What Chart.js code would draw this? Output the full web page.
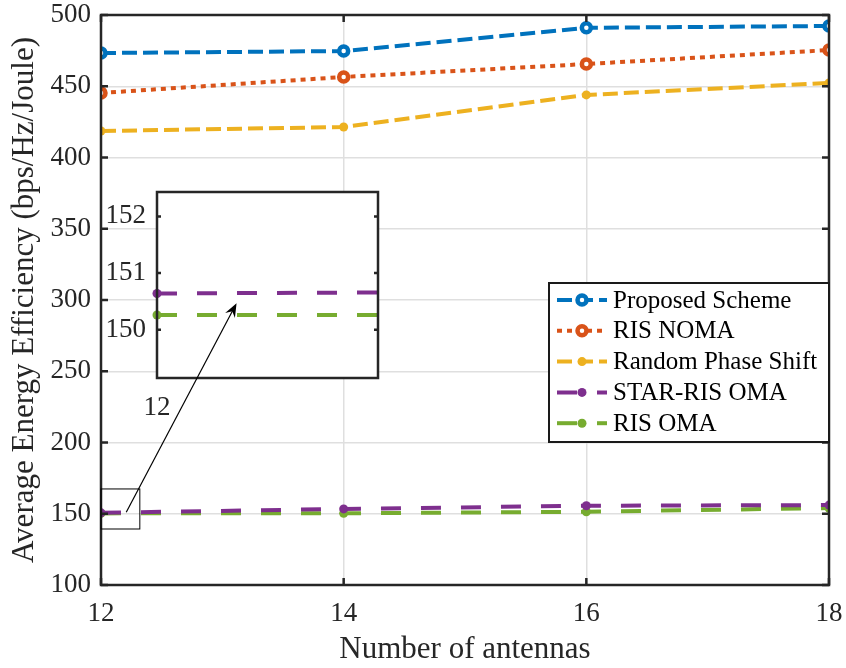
<!DOCTYPE html>
<html>
<head>
<meta charset="utf-8">
<script src="https://cdn.jsdelivr.net/npm/chart.js@4/dist/chart.umd.min.js"></script>
<style>
  html, body { margin: 0; padding: 0; background: #fff; }
  #wrap { position: relative; width: 846px; height: 668px; }
  #wrap canvas { position: absolute; left: 0; top: 0; }
</style>
</head>
<body>
<div id="wrap">
  <canvas id="main" width="846" height="668"></canvas>
  <canvas id="inset" width="846" height="668"></canvas>
</div>
<script>
const antennas = [12, 14, 16, 18];
const proposed = [473.3, 474.7, 491.0, 492.3];
const risNoma = [445.3, 456.5, 465.6, 475.4];
const randomPhase = [418.6, 421.4, 443.9, 452.3];
const starRisOma = [150.64, 153.4, 155.6, 156.1];
const risOma = [150.26, 150.3, 151.4, 154.0];

const seriesNames = ['Proposed Scheme', 'RIS NOMA', 'Random Phase Shift', 'STAR-RIS OMA', 'RIS OMA'];
const xTicks = [12, 14, 16, 18];
const yTicks = [100, 150, 200, 250, 300, 350, 400, 450, 500];
const insetYTicks = [150, 151, 152];
const insetXTicks = [12];

// zoomed region marked on the main axes
const zoomBox = { x0: 12, x1: 12.32, y0: 139.3, y1: 167.4 };

const FONT = 'Liberation Serif, Times New Roman, serif';
const AXIS = '#262626';
const GRID = '#dfdfdf';

const pts = vals => vals.map((v, i) => ({ x: antennas[i], y: v }));

function makeDatasets() {
    return [
        { label: seriesNames[0], data: pts(proposed), borderColor: '#0072BD', backgroundColor: '#ffffff',
          borderDash: [15, 6], pointStyle: 'circle', pointRadius: 4.5, pointBorderWidth: 4.5, pointBorderColor: '#0072BD' },
        { label: seriesNames[1], data: pts(risNoma), borderColor: '#D95319', backgroundColor: '#ffffff',
          borderDash: [5, 5], pointStyle: 'circle', pointRadius: 4.5, pointBorderWidth: 4.5, pointBorderColor: '#D95319' },
        { label: seriesNames[2], data: pts(randomPhase), borderColor: '#EDB120', backgroundColor: '#EDB120',
          borderDash: [15, 6], pointRadius: 4.5, pointBorderWidth: 0 },
        { label: seriesNames[3], data: pts(starRisOma), borderColor: '#7E2F8E', backgroundColor: '#7E2F8E',
          borderDash: [20, 20], pointRadius: 4.5, pointBorderWidth: 0 },
        { label: seriesNames[4], data: pts(risOma), borderColor: '#77AC30', backgroundColor: '#77AC30',
          borderDash: [20, 20], pointRadius: 4.5, pointBorderWidth: 0 }
    ].map(d => Object.assign({ borderWidth: 4, tension: 0, fill: false, pointHoverRadius: 0 }, d));
}

// box around plot area plus inward ticks on all four sides
const axesBox = {
    id: 'axesBox',
    beforeDatasetsDraw(chart, args, opts) {
        if (opts.fill) {
            const { ctx, chartArea: a } = chart;
            ctx.save();
            ctx.fillStyle = '#fff';
            ctx.fillRect(a.left, a.top, a.right - a.left, a.bottom - a.top);
            ctx.restore();
        }
    },
    afterDatasetsDraw(chart, args, opts) {
        const { ctx, chartArea: a, scales: { x, y } } = chart;
        const len = opts.tickLen || 7;
        ctx.save();
        ctx.strokeStyle = AXIS;
        ctx.lineWidth = opts.width || 2.5;
        ctx.beginPath();
        (opts.xTicks || []).forEach(v => {
            const px = x.getPixelForValue(v);
            ctx.moveTo(px, a.bottom); ctx.lineTo(px, a.bottom - len);
            ctx.moveTo(px, a.top); ctx.lineTo(px, a.top + len);
        });
        (opts.yTicks || []).forEach(v => {
            const py = y.getPixelForValue(v);
            ctx.moveTo(a.left, py); ctx.lineTo(a.left + len, py);
            ctx.moveTo(a.right, py); ctx.lineTo(a.right - len, py);
        });
        ctx.stroke();
        ctx.strokeRect(a.left, a.top, a.right - a.left, a.bottom - a.top);
        ctx.restore();
    }
};

// legend in MATLAB style, inside the axes
const boxLegend = {
    id: 'boxLegend',
    afterDraw(chart) {
        const { ctx, chartArea: a } = chart;
        const sets = chart.data.datasets;
        const w = 280, rowH = 30.8, h = 159;
        const left = a.right - w, top = 283;
        ctx.save();
        ctx.fillStyle = '#fff';
        ctx.fillRect(left, top, w, h);
        ctx.strokeStyle = '#1a1a1a';
        ctx.lineWidth = 2;
        ctx.strokeRect(left, top, w, h);
        ctx.font = '25px ' + FONT;
        ctx.textBaseline = 'middle';
        sets.forEach((d, i) => {
            const cy = top + 17 + i * rowH;
            ctx.strokeStyle = d.borderColor;
            ctx.lineWidth = 4;
            ctx.setLineDash(d.borderDash);
            ctx.beginPath();
            ctx.moveTo(left + 8, cy); ctx.lineTo(left + 58, cy);
            ctx.stroke();
            ctx.setLineDash([]);
            ctx.beginPath();
            ctx.arc(left + 33, cy, d.pointRadius, 0, Math.PI * 2);
            ctx.fillStyle = d.backgroundColor;
            ctx.fill();
            if (d.pointBorderWidth) {
                ctx.lineWidth = d.pointBorderWidth;
                ctx.strokeStyle = d.pointBorderColor;
                ctx.stroke();
            }
            ctx.fillStyle = '#000';
            ctx.fillText(d.label, left + 64, cy + 1);
        });
        ctx.restore();
    }
};

// thin rectangle marking the zoomed region
const zoomMark = {
    id: 'zoomMark',
    afterDatasetsDraw(chart) {
        const { ctx, scales: { x, y } } = chart;
        const l = x.getPixelForValue(zoomBox.x0), r = x.getPixelForValue(zoomBox.x1);
        const t = y.getPixelForValue(zoomBox.y1), b = y.getPixelForValue(zoomBox.y0);
        ctx.save();
        ctx.strokeStyle = '#000';
        ctx.lineWidth = 1;
        ctx.strokeRect(l, t, r - l, b - t);
        ctx.restore();
    }
};

// pin the axis size and drop the automatic edge padding for labels
const fixed = (key, val) => scale => {
    scale[key] = val;
    scale.paddingTop = scale.paddingBottom = scale.paddingLeft = scale.paddingRight = 0;
};

const mainChart = new Chart(document.getElementById('main'), {
    type: 'line',
    data: { datasets: makeDatasets() },
    plugins: [axesBox, zoomMark, boxLegend],
    options: {
        responsive: false,
        animation: false,
        events: [],
        layout: { padding: { top: 15, right: 17, left: 0, bottom: 0 } },
        plugins: {
            legend: { display: false },
            tooltip: { enabled: false },
            axesBox: { xTicks, yTicks, tickLen: 7, width: 2.5 }
        },
        scales: {
            x: {
                type: 'linear', min: 12, max: 18,
                afterFit: fixed('height', 83),
                afterBuildTicks: s => { s.ticks = xTicks.map(v => ({ value: v })); },
                grid: { color: GRID, lineWidth: 1.5, drawTicks: false },
                border: { display: false },
                ticks: { color: '#262626', padding: 13, font: { family: FONT, size: 27 } },
                title: { display: true, text: 'Number of antennas', color: '#262626',
                         padding: { top: 8, bottom: 0 }, font: { family: FONT, size: 31 } }
            },
            y: {
                type: 'linear', min: 100, max: 500,
                afterFit: fixed('width', 101),
                afterBuildTicks: s => { s.ticks = yTicks.map(v => ({ value: v })); },
                grid: { color: GRID, lineWidth: 1.5, drawTicks: false },
                border: { display: false },
                ticks: { color: '#262626', padding: 10, font: { family: FONT, size: 27 } },
                title: { display: true, text: 'Average Energy Efficiency (bps/Hz/Joule)', color: '#262626',
                         padding: { top: 6, bottom: 0 }, font: { family: FONT, size: 31 } }
            }
        }
    }
});

// arrow from the marked region to the inset
const arrow = {
    id: 'arrow',
    afterDraw(chart) {
        const { ctx, chartArea: a } = chart;
        const mx = mainChart.scales.x, my = mainChart.scales.y;
        const x0 = mx.getPixelForValue(12.208), y0 = my.getPixelForValue(151);
        const x1 = a.left + 0.36 * (a.right - a.left), y1 = chart.scales.y.getPixelForValue(150.47);
        const ang = Math.atan2(y1 - y0, x1 - x0);
        const L = 14, W = 5.5;
        ctx.save();
        ctx.strokeStyle = '#000';
        ctx.fillStyle = '#000';
        ctx.lineWidth = 1.2;
        ctx.beginPath();
        ctx.moveTo(x0, y0);
        ctx.lineTo(x1 - Math.cos(ang) * 8, y1 - Math.sin(ang) * 8);
        ctx.stroke();
        ctx.translate(x1, y1);
        ctx.rotate(ang);
        ctx.beginPath();
        ctx.moveTo(0, 0);
        ctx.lineTo(-L, -W);
        ctx.lineTo(-L * 0.65, 0);
        ctx.lineTo(-L, W);
        ctx.closePath();
        ctx.fill();
        ctx.restore();
    }
};

const insetSets = makeDatasets().slice(3).map(d => Object.assign(d, {
    clip: { left: 8, top: 0, right: 0, bottom: 0 }
}));

new Chart(document.getElementById('inset'), {
    type: 'line',
    data: { datasets: insetSets },
    plugins: [axesBox, arrow],
    options: {
        responsive: false,
        animation: false,
        events: [],
        layout: { padding: { top: 192, right: 468, left: 0, bottom: 244 } },
        plugins: {
            legend: { display: false },
            tooltip: { enabled: false },
            axesBox: { fill: true, xTicks: [], yTicks: insetYTicks, tickLen: 4, width: 2.5 }
        },
        scales: {
            x: {
                type: 'linear', min: 12, max: 12.01,
                afterFit: fixed('height', 46),
                afterBuildTicks: s => { s.ticks = insetXTicks.map(v => ({ value: v })); },
                grid: { display: false },
                border: { display: false },
                ticks: { color: '#262626', padding: 6, font: { family: FONT, size: 27 } }
            },
            y: {
                type: 'linear', min: 149.15, max: 152.43,
                afterFit: fixed('width', 157),
                afterBuildTicks: s => { s.ticks = insetYTicks.map(v => ({ value: v })); },
                grid: { color: GRID, lineWidth: 1.5, drawTicks: false },
                border: { display: false },
                ticks: { color: '#262626', padding: 11, font: { family: FONT, size: 27 } }
            }
        }
    }
});
</script>
</body>
</html>
